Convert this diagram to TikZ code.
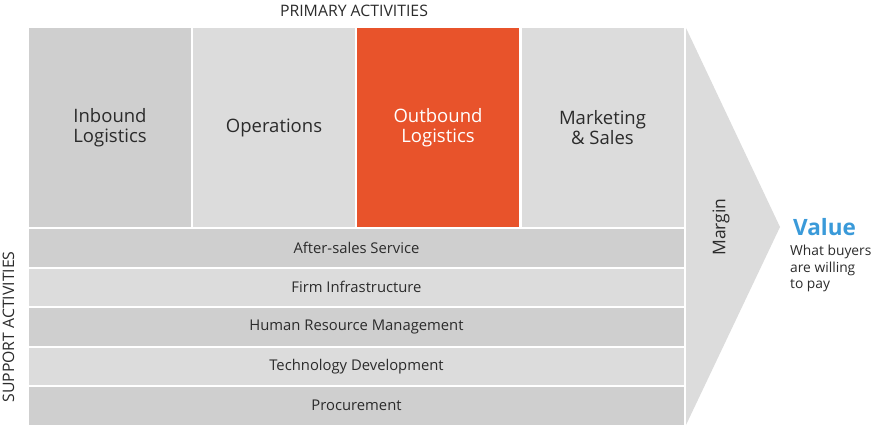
\documentclass[tikz,border=0pt]{standalone}
\usepackage{fontspec}
\setmainfont{Open Sans}
\usepackage{tikz}
\usetikzlibrary{positioning}
\definecolor{darkBox}{HTML}{CFCFCF}
\definecolor{lightBox}{HTML}{DCDCDC}
\definecolor{mainOrange}{HTML}{E8532B}
\definecolor{mainText}{HTML}{2B2B2B}
\definecolor{valueBlue}{HTML}{3A9AD9}

\begin{document}
\begin{tikzpicture}[x=1pt, y=-1pt,
    primbox/.style={minimum width=162pt, minimum height=199pt, inner sep=0pt,
        align=center, text=mainText, font=\fontsize{18.5}{20}\selectfont},
    rowbox/.style={minimum width=655pt, minimum height=37.5pt, inner sep=0pt,
        text=mainText, font=\fontsize{14.8}{16}\selectfont},
    caption/.style={text=mainText, font=\fontsize{15.8}{17}\selectfont}]
    \useasboundingbox (0,0) rectangle (873,428);

    % Primary activities
    \node[primbox, fill=darkBox] (inbound) at (110,127.5) {Inbound\\Logistics};
    \node[primbox, fill=lightBox] (operations) at (274,127.5) {Operations};
    \node[primbox, fill=mainOrange, text=white] (outbound) at (438,127.5) {Outbound\\Logistics};
    \node[primbox, fill=lightBox] (marketing) at (602.5,127.5) {Marketing\\\& Sales};
    \node[caption] (primary) at (354,11) {PRIMARY ACTIVITIES};

    % Support activities
    \foreach \i/\name/\col/\txt in {0/aftersales/darkBox/After-sales Service,
        1/infra/lightBox/Firm Infrastructure,
        2/hrm/darkBox/Human Resource Management,
        3/techdev/lightBox/Technology Development,
        4/procure/darkBox/Procurement}
        \node[rowbox, fill=\col] (\name) at (356.5,{247.75+39.5*\i}) {\txt};
    \node[caption, rotate=90] (support) at (8.5,327) {SUPPORT ACTIVITIES};

    % Margin
    \fill[lightBox] (686,28) -- (780,227) -- (686,425) -- cycle;
    \node[rotate=90, text=mainText, font=\fontsize{17.5}{19}\selectfont] (margin) at (721,227) {Margin};

    % Value
    \node[anchor=west, inner sep=0pt, text=valueBlue, font=\fontsize{22.5}{24}\selectfont\bfseries] (value) at (793,227) {Value};
    \node[anchor=north west, inner sep=0pt, align=left, text=mainText,
        font=\fontsize{13.8}{16.5}\selectfont] (buyers) at (790,245) {What buyers\\are willing\\to pay};
\end{tikzpicture}
\end{document}
